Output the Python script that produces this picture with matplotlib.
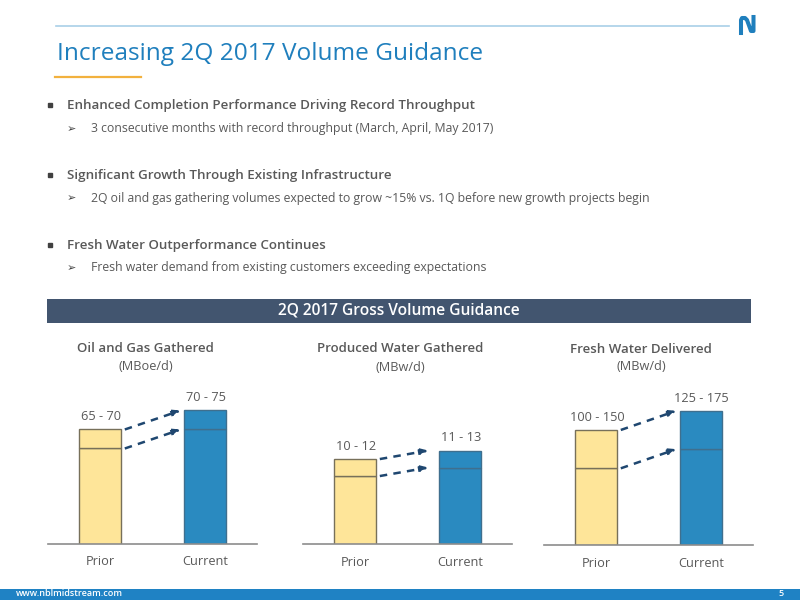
import matplotlib
matplotlib.use("Agg")
import matplotlib.pyplot as plt
from matplotlib.patches import Rectangle

plt.rcParams['font.family'] = ['Open Sans', 'DejaVu Sans']

TITLE = "Increasing 2Q 2017 Volume Guidance"
BANNER = "2Q 2017 Gross Volume Guidance"
HEADINGS = ["Enhanced Completion Performance Driving Record Throughput",
            "Significant Growth Through Existing Infrastructure",
            "Fresh Water Outperformance Continues"]
DETAILS = ["3 consecutive months with record throughput (March, April, May 2017)",
           "2Q oil and gas gathering volumes expected to grow ~15% vs. 1Q before new growth projects begin",
           "Fresh water demand from existing customers exceeding expectations"]

categories = ["Prior", "Current"]
panel_titles = ["Oil and Gas Gathered", "Produced Water Gathered", "Fresh Water Delivered"]
panel_units = ["(MBoe/d)", "(MBw/d)", "(MBw/d)"]
low_values = [[65, 70], [10, 11], [100, 125]]
high_values = [[70, 75], [12, 13], [150, 175]]
range_labels = [["65 - 70", "70 - 75"], ["10 - 12", "11 - 13"], ["100 - 150", "125 - 175"]]

BLUE = "#1f7fbd"
GREY = "#595959"
W, H = 800, 600

fig = plt.figure(figsize=(8, 6), dpi=100)

# slide furniture, drawn in pixel coordinates
bg = fig.add_axes([0, 0, 1, 1])
bg.set_xlim(0, W)
bg.set_ylim(H, 0)
bg.axis("off")
bg.plot([56, 729], [25.5, 25.5], color="#a9cfe8", lw=1.2)
bg.plot([55, 141], [76.5, 76.5], color="#f2b13e", lw=1.6)
bg.text(57, 53.5, TITLE, color=BLUE, fontsize=17.55, va="center")
# logo
bg.plot([741, 741, 742, 745, 747, 751, 753.5, 753.5], [33, 20, 18, 18, 20, 31, 31, 17],
        color=BLUE, lw=2.9, solid_joinstyle="round")

for i in range(3):
    y0 = 105.8 + i * 69.7
    bg.plot([50], [y0 - 0.5], marker="s", ms=2.2, color="#404040")
    bg.text(67, y0, HEADINGS[i], color=GREY, fontsize=9.6, fontweight=600, va="center")
    bg.text(71, y0 + 22.8, "\u27a2", color="#404040", fontsize=8, ha="center", va="center",
            family="DejaVu Sans")
    bg.text(91, y0 + 22.8, DETAILS[i], color=GREY, fontsize=8.83, va="center")

bg.add_patch(Rectangle((47, 299), 704, 24, color="#42556f", lw=0))
bg.text(399, 310.5, BANNER, color="white", fontsize=11.2, fontweight=600, ha="center", va="center")
bg.add_patch(Rectangle((0, 589), W, 11, color="#1f82c4", lw=0))
bg.text(16, 594, "www.nblmidstream.com", color="white", fontsize=6.5, fontweight=600, va="center")
bg.text(781, 594, "5", color="white", fontsize=6.5, fontweight=600, ha="center", va="center")

# left edge px, baseline px, axis height px, ylim, title x/y px, units x/y px, arrow end
panels = [(48, 543.5, 175, (40, 86.05), 145.5, 348, 146, 366, 0.77),
          (303, 544, 175, (2, 22.6), 400, 348.5, 400, 367.5, 0.70),
          (544, 545, 175, (0, 228.2), 641, 349.5, 641.5, 367, 0.767)]

for i, (left, base, height, ylim, tx, ty, ux, uy, arrow_end) in enumerate(panels):
    ax = fig.add_axes([left / W, 1 - base / H, 209 / W, height / H])
    ax.set_xlim(-0.5, 1.5)
    ax.set_ylim(*ylim)
    ax.patch.set_alpha(0)
    colors = ["#fee599", "#2a8ac0"]
    edges = ["#77705a", "#3f6f8e"]
    for j in range(2):
        ax.bar(j, low_values[i][j], width=0.4, color=colors[j], edgecolor=edges[j], lw=1)
        ax.bar(j, high_values[i][j] - low_values[i][j], bottom=low_values[i][j], width=0.4,
               color=colors[j], edgecolor=edges[j], lw=1)
        ax.annotate(range_labels[i][j], (j, high_values[i][j]), xytext=(0.7, 4.5),
                    textcoords="offset points", ha="center", va="bottom", color=GREY, fontsize=9.2)
    # dashed arrows from prior to current, one for each end of the range
    for vals in (low_values[i], high_values[i]):
        ax.annotate("", xy=(arrow_end, vals[1]), xytext=(0.235, vals[0]),
                    arrowprops=dict(arrowstyle="-|>,head_length=0.45,head_width=0.2",
                                    color="#1f4770", lw=1.8, linestyle=(0, (3.0, 2.5)),
                                    capstyle="butt", shrinkA=0, shrinkB=0))
    for s in ("top", "left", "right"):
        ax.spines[s].set_visible(False)
    ax.spines["bottom"].set_color("#8c8c8c")
    ax.spines["bottom"].set_linewidth(1.2)
    ax.set_yticks([])
    ax.set_xticks([0, 1])
    ax.set_xticklabels(categories, color=GREY, fontsize=9.2)
    ax.tick_params(axis="x", length=0, pad=8.5)
    bg.text(tx, ty, panel_titles[i], color=GREY, fontsize=9.55, fontweight=600, ha="center", va="center")
    bg.text(ux, uy, panel_units[i], color=GREY, fontsize=9.2, ha="center", va="center")

fig.savefig("out.png", dpi=100)
